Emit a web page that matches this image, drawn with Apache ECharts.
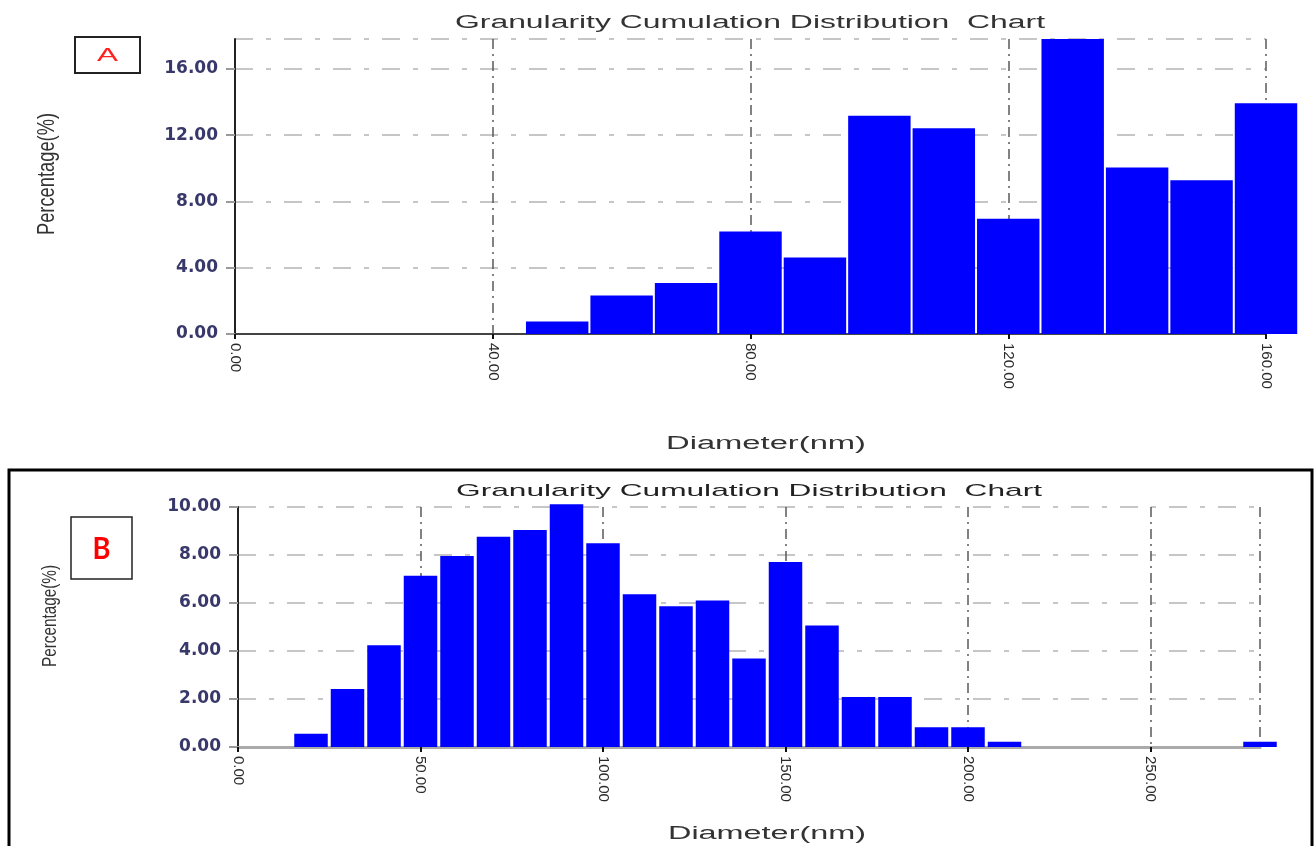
<!DOCTYPE html>
<html><head><meta charset="utf-8">
<script src="https://cdn.jsdelivr.net/npm/echarts@6/dist/echarts.min.js"></script>
<style>html,body{margin:0;padding:0;background:#fff}#c{width:1314px;height:846px}</style>
</head><body><div id="c"></div><script>
// ---------------- data ----------------
const binWidth = 10;
const diameterA = [50, 60, 70, 80, 90, 100, 110, 120, 130, 140, 150, 160];
const percentA  = [0.76, 2.33, 3.08, 6.19, 4.62, 13.17, 12.42, 6.95, 17.8, 10.05, 9.27, 13.93];
const xTicksA = [0, 40, 80, 120, 160];
const yTicksA = [0, 4, 8, 12, 16];
const yMaxA = 17.8;

const diameterB = [20, 30, 40, 50, 60, 70, 80, 90, 100, 110, 120, 130, 140, 150, 160, 170, 180, 190, 200, 210, 220, 230, 240, 250, 260, 270, 280];
const percentB  = [0.55, 2.42, 4.24, 7.14, 7.96, 8.76, 9.04, 10.11, 8.49, 6.36, 5.86, 6.10, 3.69, 7.71, 5.06, 2.08, 2.08, 0.82, 0.82, 0.22, 0, 0, 0, 0, 0, 0, 0.22];
const xTicksB = [0, 50, 100, 150, 200, 250];
const xMaxB = 280;
const yTicksB = [0, 2, 4, 6, 8, 10];

const chartTitle = 'Granularity Cumulation Distribution  Chart';
const xName = 'Diameter(nm)';
const yName = 'Percentage(%)';
const panelA = 'A';
const panelB = 'B';

// ---------------- helpers ----------------
const mctx = document.createElement('canvas').getContext('2d');
function textW(t, font) { mctx.font = font; return mctx.measureText(t).width; }
function stretched(text, cx, cy, font, color, targetLen, thick, rot) {
  const s = targetLen / textW(text, font);
  return {
    type: 'text', x: cx, y: cy, rotation: rot || 0, scaleX: s, scaleY: thick || 1, z: 10,
    style: { text: text, font: font, fill: color, align: 'center', verticalAlign: 'middle',
             textAlign: 'center', textVerticalAlign: 'middle' }
  };
}
const fmt2 = v => Number(v).toFixed(2);
function pairs(xs, ys) { return xs.map((x, i) => [x, ys[i]]); }
function barRenderer(inset) {
  return function (params, api) {
    const x = api.value(0), v = api.value(1);
    if (!(v > 0)) return { type: 'group', children: [] };
    const a = api.coord([x - binWidth / 2, 0]);
    const b = api.coord([x + binWidth / 2, v]);
    return {
      type: 'rect',
      shape: { x: a[0] + inset, y: b[1], width: b[0] - a[0] - 2 * inset, height: a[1] - b[1] },
      style: { fill: '#0000ff' }
    };
  };
}
function xAxisCfg(gi, ticks, max, axisColor, axisWidth) {
  return {
    gridIndex: gi, type: 'value', min: ticks[0], max: max, interval: ticks[1] - ticks[0],
    axisLine: { show: true, onZero: false, lineStyle: { color: axisColor, width: axisWidth } },
    axisTick: { show: true, length: 5, lineStyle: { color: '#111', width: 2 } },
    axisLabel: { rotate: -90, margin: 9, fontFamily: '"Liberation Sans", Arial, sans-serif', fontSize: 15,
                 color: '#2a2a2a', formatter: fmt2, showMaxLabel: max === ticks[ticks.length - 1] },
    splitLine: { show: true, lineStyle: { color: '#5a5a5a', width: 1.5, type: [10, 5, 2, 5] } }
  };
}
function yAxisCfg(gi, ticks, max) {
  return {
    gridIndex: gi, type: 'value', min: ticks[0], max: max, interval: ticks[1] - ticks[0],
    axisLine: { show: true, onZero: false, lineStyle: { color: '#222', width: 2 } },
    axisTick: { show: true, length: 9, lineStyle: { color: '#9a9a9a', width: 2 } },
    axisLabel: { margin: 17, fontFamily: '"DejaVu Sans", sans-serif', fontWeight: 'bold', fontSize: 17,
                 color: '#38386a', formatter: fmt2, showMaxLabel: max === ticks[ticks.length - 1] },
    splitLine: { show: true, lineStyle: { color: '#c6c6c6', width: 2, type: [18, 13, 5, 13] } }
  };
}

// ---------------- chart ----------------
const chart = echarts.init(document.getElementById('c'));
const LS = '"Liberation Sans", Arial, sans-serif';
const option = {
  animation: false,
  backgroundColor: '#ffffff',
  grid: [
    { left: 235, top: 39, width: 1031, height: 295, outerBoundsMode: 'none' },
    { left: 238, top: 507, width: 1022, height: 240, outerBoundsMode: 'none' }
  ],
  xAxis: [
    xAxisCfg(0, xTicksA, xTicksA[xTicksA.length - 1], '#444', 2),
    xAxisCfg(1, xTicksB, xMaxB, '#aaaaaa', 3)
  ],
  yAxis: [
    yAxisCfg(0, yTicksA, yMaxA),
    yAxisCfg(1, yTicksB, yTicksB[yTicksB.length - 1])
  ],
  series: [
    { type: 'custom', xAxisIndex: 0, yAxisIndex: 0, clip: false, renderItem: barRenderer(1),
      encode: { x: 0, y: 1 }, data: pairs(diameterA, percentA) },
    { type: 'custom', xAxisIndex: 1, yAxisIndex: 1, clip: false, renderItem: barRenderer(1.5),
      encode: { x: 0, y: 1 }, data: pairs(diameterB, percentB) }
  ],
  graphic: [
    // outer frame of panel B
    { type: 'rect', shape: { x: 9, y: 470, width: 1303, height: 420 }, z: 0,
      style: { fill: 'none', stroke: '#000', lineWidth: 3 } },
    // panel label boxes
    { type: 'rect', shape: { x: 75, y: 37, width: 65, height: 36 }, z: 5,
      style: { fill: '#fff', stroke: '#222', lineWidth: 2 } },
    stretched(panelA, 107.5, 56, '19px ' + LS, '#ff2020', 21, 1),
    { type: 'rect', shape: { x: 71, y: 517, width: 61, height: 62 }, z: 5,
      style: { fill: '#fff', stroke: '#222', lineWidth: 1.5 } },
    stretched(panelB, 101.5, 549, 'bold 30px Lato, sans-serif', '#ff0000', 18, 1),
    // titles
    stretched(chartTitle, 750, 23, '18px ' + LS, '#333', 590, 1),
    stretched(chartTitle, 749, 491, '17px ' + LS, '#222', 586, 1),
    // axis names
    stretched(xName, 766, 444, '18px ' + LS, '#333', 200, 1),
    stretched(xName, 767, 834, '18px ' + LS, '#333', 198, 1),
    stretched(yName, 47, 174, '16px ' + LS, '#333', 122, 1.5, Math.PI / 2),
    stretched(yName, 50, 616, '14px ' + LS, '#333', 102, 1.5, Math.PI / 2)
  ]
};
chart.setOption(option);
</script></body></html>
